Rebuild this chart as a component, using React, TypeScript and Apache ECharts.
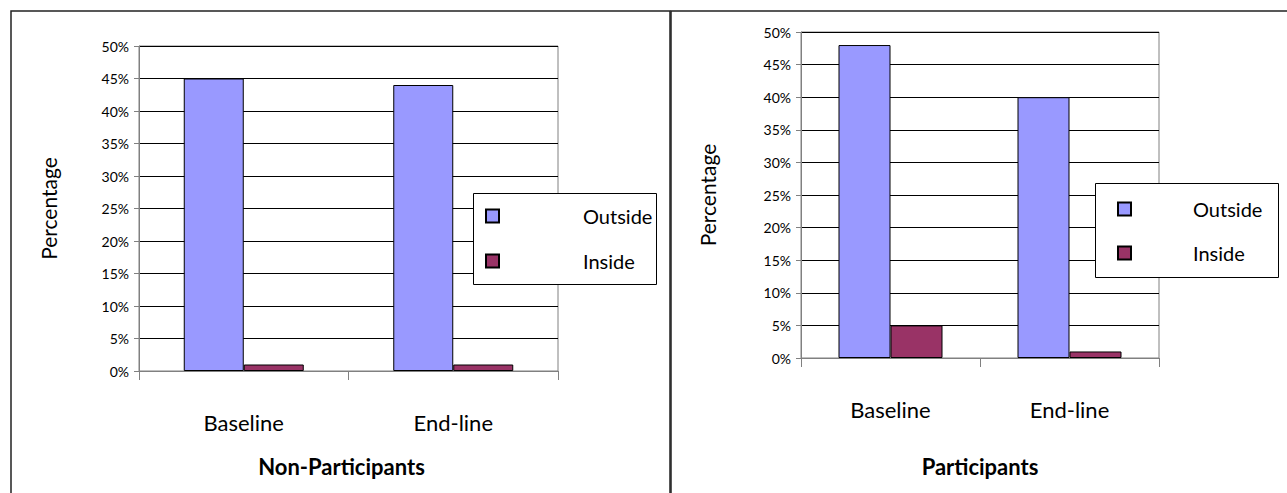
import React, { useEffect, useRef } from "react";
import * as echarts from "echarts";

const categories = ["Baseline", "End-line"];
const seriesNames = ["Outside", "Inside"];
const nonParticipantsOutside = [45, 44];
const nonParticipantsInside = [1, 1];
const participantsOutside = [48, 40];
const participantsInside = [5, 1];
const panelTitles = ["Non-Participants", "Participants"];
const yAxisName = "Percentage";

const FONT = "Lato, 'DejaVu Sans', sans-serif";
const OUT_COLOR = "#9999FF";
const IN_COLOR = "#993366";

export default function App() {
  const ref = useRef<HTMLDivElement>(null);
  useEffect(() => {
    if (!ref.current) return;
    const chart = echarts.init(ref.current, null, { renderer: "svg" });

    const yAxisBase = (gridIndex: number, nameGap: number) => ({
      type: "value",
      gridIndex,
      min: 0,
      max: 50,
      interval: 5,
      name: yAxisName,
      nameLocation: "middle",
      nameRotate: 90,
      nameGap,
      nameTextStyle: { fontFamily: FONT, fontSize: 21, color: "#000" },
      axisLine: { show: true, lineStyle: { color: "#808080", width: 1 } },
      axisTick: { show: true, length: 5, lineStyle: { color: "#808080" } },
      axisLabel: {
        formatter: "{value}%",
        fontFamily: FONT,
        fontSize: 14,
        color: "#000",
        margin: 10,
      },
      splitLine: { show: true, lineStyle: { color: "#000", width: 1 } },
    });

    const xAxisBase = (gridIndex: number, title: string, labelMargin: number, nameGap: number, shift: number) => ({
      type: "category",
      gridIndex,
      data: categories,
      name: title,
      nameLocation: "middle",
      nameGap,
      nameTextStyle: {
        fontFamily: FONT,
        fontSize: 22,
        fontWeight: "bold",
        color: "#000",
        padding: [0, shift, 0, 0],
      },
      axisLine: { show: true, lineStyle: { color: "#808080", width: 1 } },
      axisTick: { show: true, length: 9, alignWithLabel: false, lineStyle: { color: "#808080" } },
      axisLabel: { fontFamily: FONT, fontSize: 22, color: "#000", margin: labelMargin },
      splitLine: { show: false },
    });

    const bar = (name: string, xi: number, data: number[], color: string, width: number) => ({
      type: "bar",
      name,
      xAxisIndex: xi,
      yAxisIndex: xi,
      data,
      barWidth: width,
      barGap: "0%",
      itemStyle: { color, borderColor: "#000", borderWidth: 1 },
    });

    const legendBase = (left: number, top: number, gap: number, pad: number) => ({
      orient: "vertical",
      left,
      top,
      z: 20,
      icon: "rect",
      itemGap: gap,
      itemWidth: 13,
      itemHeight: 13,
      padding: 0,
      data: seriesNames,
      formatter: (n: string) => "{a|" + n + "}",
      textStyle: {
        fontFamily: FONT,
        fontSize: 20,
        color: "#000",
        lineHeight: 22,
        rich: { a: { fontFamily: FONT, fontSize: 20, color: "#000", lineHeight: 22, padding: [0, 0, 0, pad] } },
      },
      selectedMode: false,
    });

    chart.setOption({
      animation: false,
      backgroundColor: "#fff",
      graphic: [
        { type: "rect", shape: { x: 11, y: 11, width: 659, height: 500 }, style: { fill: "none", stroke: "#222", lineWidth: 1.5 }, z: 1 },
        { type: "rect", shape: { x: 671, y: 11, width: 640, height: 500 }, style: { fill: "none", stroke: "#222", lineWidth: 1.5 }, z: 1 },
        { type: "rect", shape: { x: 473.5, y: 193.5, width: 183, height: 91 }, style: { fill: "#fff", stroke: "#000", lineWidth: 1 }, z: 3 },
        { type: "rect", shape: { x: 1095.5, y: 183.5, width: 183, height: 94 }, style: { fill: "#fff", stroke: "#000", lineWidth: 1 }, z: 3 },
      ],
      legend: [legendBase(485, 205, 23, 79), legendBase(1117, 198, 22, 57)],
      grid: [
        { left: 139, top: 46, width: 419, height: 325, show: true, borderColor: "#808080", borderWidth: 1, backgroundColor: "transparent" },
        { left: 801, top: 32, width: 358, height: 326, show: true, borderColor: "#808080", borderWidth: 1, backgroundColor: "transparent" },
      ],
      xAxis: [xAxisBase(0, panelTitles[0], 40, 84, 14), xAxisBase(1, panelTitles[1], 40, 97, 0)],
      yAxis: [yAxisBase(0, 80), yAxisBase(1, 83)],
      series: [
        bar(seriesNames[0], 0, nonParticipantsOutside, OUT_COLOR, 60),
        bar(seriesNames[1], 0, nonParticipantsInside, IN_COLOR, 60),
        bar(seriesNames[0], 1, participantsOutside, OUT_COLOR, 52),
        bar(seriesNames[1], 1, participantsInside, IN_COLOR, 52),
      ],
    });
    return () => chart.dispose();
  }, []);
  return (
    <div
      ref={ref}
      style={{ position: "fixed", left: 0, top: 0, width: 1287, height: 493, background: "#fff" }}
    />
  );
}
